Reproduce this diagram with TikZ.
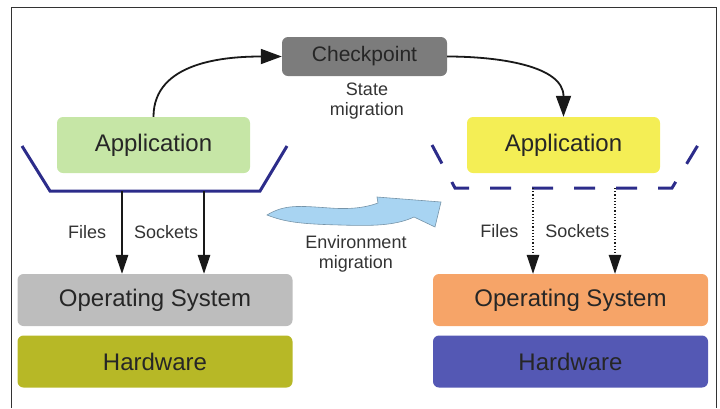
\documentclass[tikz,border=0pt]{standalone}
\usepackage{fontspec}
\setmainfont{Liberation Sans}
\usetikzlibrary{arrows.meta}

\definecolor{ckgray}{HTML}{7C7C7C}
\definecolor{appgreen}{HTML}{C6E6A6}
\definecolor{appyellow}{HTML}{F4EE55}
\definecolor{osgray}{HTML}{BDBDBD}
\definecolor{hwolive}{HTML}{B7B826}
\definecolor{osorange}{HTML}{F6A468}
\definecolor{hwblue}{HTML}{5458B4}
\definecolor{shellblue}{HTML}{2C2C8A}
\definecolor{envblue}{HTML}{A8D4F2}

\begin{document}
\begin{tikzpicture}[x=1pt,y=-1pt,>={Triangle[length=19pt,width=12.5pt]}]
\tikzstyle{app}=[rounded corners=6pt, inner sep=0pt, minimum width=193pt, minimum height=56pt, text=black!85, font=\fontsize{24}{28}\selectfont]
\tikzstyle{layer}=[rounded corners=6pt, inner sep=0pt, minimum width=275pt, minimum height=52pt, text=black!85, font=\fontsize{24}{28}\selectfont]
\tikzstyle{note}=[inner sep=2pt, align=center, text=black!80, font=\fontsize{18}{20}\selectfont]
\tikzstyle{shell}=[line width=3pt, draw=shellblue]
\tikzstyle{link}=[->, line width=1.6pt, black!90]
\tikzstyle{curvelink}=[-{Triangle[length=21pt,width=15pt]}, line width=1.8pt, black!90]

\useasboundingbox (0,0) rectangle (720,408);
\draw[line width=1pt, black!80] (11,408) -- (11,7) -- (716,7) -- (716,408);

\node[rounded corners=6pt, fill=ckgray, inner sep=0pt, minimum width=165pt, minimum height=39pt,
      text=black!85, font=\fontsize{21}{25}\selectfont] (ck) at (364.5,56.5) {Checkpoint};
\node[note] (state) at (367,101) {State\\migration};

\node[app, fill=appgreen] (lapp) at (153.5,145) {Application};
\node[app, fill=appyellow] (rapp) at (563.5,145) {Application};

\node[layer, fill=osgray] (los) at (155,300) {Operating System};
\node[layer, fill=hwolive] (lhw) at (155,361.5) {Hardware};
\node[layer, fill=osorange] (ros) at (570.5,300) {Operating System};
\node[layer, fill=hwblue] (rhw) at (570.5,361.5) {Hardware};

\node[note] (env) at (356,254) {Environment\\migration};

\draw[shell] (22,146) -- (50,191) -- (260,191) -- (287,146);
\draw[shell, dash pattern=on 21pt off 21pt] (432,145) -- (455,188) -- (672,188) -- (698,145);

\coordinate (lfiles) at (122,191);
\coordinate (lsock) at (204,191);
\coordinate (rfiles) at (533,188);
\coordinate (rsock) at (615,188);

\draw[curvelink] (lapp.north) to[out=90, in=180] (ck.west);
\draw[curvelink] (ck.east) to[out=0, in=90] (rapp.north);

\draw[link] (lfiles) -- (lfiles |- los.north)
    node [note, left=13pt, midway] {Files};
\draw[link] (lsock) -- (lsock |- los.north)
    node [note, left=3pt, midway] {Sockets};
\draw[link, line width=1.2pt, dotted] (rfiles) -- (rfiles |- ros.north)
    node [note, left=12pt, midway] {Files};
\draw[link, line width=1.2pt, dotted] (rsock) -- (rsock |- ros.north)
    node [note, left=3pt, midway] {Sockets};

\draw[fill=envblue, draw=envblue!70!black, line width=0.6pt]
    (267,215) .. controls (285,204) and (300,206) .. (330,208)
    .. controls (355,210) and (370,206) .. (378,203) -- (377,197) -- (441,202)
    -- (435,227) -- (414,217) .. controls (395,226) and (370,226) .. (340,225)
    .. controls (300,224) and (285,222) .. (267,215) -- cycle;
\end{tikzpicture}
\end{document}
